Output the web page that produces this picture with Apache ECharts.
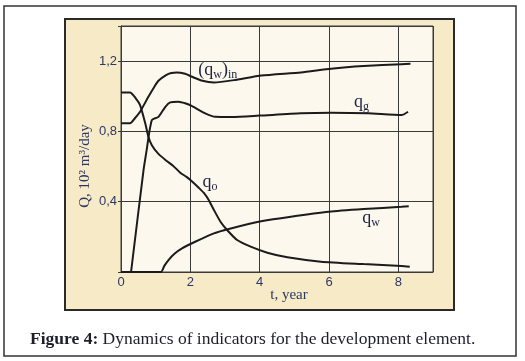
<!DOCTYPE html>
<html>
<head>
<meta charset="utf-8">
<script src="https://cdn.jsdelivr.net/npm/echarts@6/dist/echarts.min.js"></script>
<style>
  html, body { margin: 0; padding: 0; background: #fff; }
  #chart { width: 525px; height: 361px; }
</style>
</head>
<body>
<div id="chart"></div>
<script>
var dom = document.getElementById("chart");
var chart = echarts.init(dom);

// values: [t (year), Q (10^2 m3/day)]
var qoData = [[0,1.022],[0.26,1.022],[0.42,0.99],[0.55,0.95],[0.70,0.846],[0.79,0.77],[0.89,0.722],[1.08,0.672],
  [1.3,0.635],[1.5,0.605],[1.71,0.565],[1.90,0.54],[2.05,0.515],[2.25,0.478],[2.39,0.45],[2.53,0.41],[2.68,0.353],
  [2.87,0.286],[3.06,0.239],[3.35,0.182],[3.74,0.144],[4.22,0.110],[4.80,0.084],[5.77,0.059],[7,0.045],[8.09,0.034],[8.33,0.03]];
var qwData = [[0,0],[1.15,0],[1.25,0.035],[1.37,0.068],[1.55,0.105],[1.76,0.135],[2.14,0.172],[2.68,0.22],[3.11,0.245],
  [4.08,0.29],[4.90,0.315],[6,0.343],[7,0.358],[8.09,0.371],[8.30,0.374]];
var qwInData = [[0,0.846],[0.26,0.846],[0.4,0.875],[0.55,0.912],[0.79,0.997],[0.95,1.05],[1.08,1.088],[1.3,1.12],
  [1.45,1.132],[1.61,1.136],[1.85,1.128],[2.05,1.111],[2.35,1.088],[2.68,1.079],[3.26,1.092],[4.05,1.118],[5.19,1.136],
  [6.06,1.157],[7,1.172],[8.09,1.183],[8.35,1.185]];
var qgData = [[0.29,0],[0.65,0.58],[0.74,0.694],[0.82,0.80],[0.89,0.865],[0.94,0.872],[1.08,0.883],[1.28,0.94],
  [1.42,0.965],[1.66,0.969],[1.85,0.96],[2.05,0.944],[2.43,0.903],[2.72,0.883],[3.2,0.882],[4,0.89],[5.19,0.903],
  [6.06,0.906],[7.12,0.903],[8.09,0.893],[8.28,0.912]];

var xTicks = [0, 2, 4, 6, 8];
var yTicks = [0.4, 0.8, 1.2];

// curve names and where they sit (data coords, left/middle of the text)
var curveLabels = [
  {text: '{p|(q}{s|w}{p|)}{s|in}', at: [2.23, 1.149]},
  {text: '{p|q}{s|g}', at: [6.72, 0.967]},
  {text: '{p|q}{s|o}', at: [2.35, 0.512]},
  {text: '{p|q}{s|w}', at: [6.96, 0.307]}
];

var axisName = 'Q, 10² m³/day';
var xName = 't, year';
var caption = ['Figure 4:', ' Dynamics of indicators for the development element.'];

var serif = '"Liberation Serif", "DejaVu Serif", serif';
var labelColor = '#2b3766';

function curve(name, data) {
  return {
    name: name,
    type: 'line',
    data: data,
    smooth: 0.2,
    showSymbol: false,
    silent: true,
    lineStyle: { color: '#1b1b1b', width: 2 }
  };
}

var option = {
  animation: false,
  backgroundColor: '#ffffff',
  grid: {
    left: 121, top: 26, width: 312, height: 246,
    show: true,
    backgroundColor: '#fcf8ee',
    borderColor: '#3a3a3a',
    borderWidth: 1,
    outerBoundsMode: 'none'
  },
  xAxis: {
    type: 'value',
    min: 0, max: 9, interval: 2,
    axisLine: { show: true, lineStyle: { color: '#3a3a3a', width: 1 } },
    axisTick: { show: false },
    splitLine: { show: true, lineStyle: { color: '#3a3a3a', width: 1 } },
    axisLabel: {
      margin: 4,
      color: labelColor,
      fontFamily: '"Liberation Sans", Arial, sans-serif',
      fontSize: 13,
      formatter: function (v) { return xTicks.indexOf(v) >= 0 ? String(v) : ''; }
    }
  },
  yAxis: {
    type: 'value',
    min: 0, max: 1.4, interval: 0.4,
    axisLine: { show: true, lineStyle: { color: '#3a3a3a', width: 1 } },
    axisTick: { show: true, length: 3, inside: false, lineStyle: { color: '#3a3a3a' } },
    splitLine: { show: true, lineStyle: { color: '#3a3a3a', width: 1 } },
    axisLabel: {
      margin: 4,
      color: labelColor,
      fontFamily: '"Liberation Sans", Arial, sans-serif',
      fontSize: 13,
      formatter: function (v) {
        var r = Math.round(v * 10) / 10;
        if (yTicks.indexOf(r) < 0) return '';
        return r.toFixed(1).replace('.', ',');
      }
    }
  },
  series: [
    curve('qo', qoData),
    curve('qw', qwData),
    curve('(qw)in', qwInData),
    curve('qg', qgData)
  ]
};

chart.setOption(option, true);

var graphics = [
  { type: 'rect', z: -20, shape: { x: 4, y: 6, width: 512, height: 350 },
    style: { fill: '#ffffff', stroke: '#333333', lineWidth: 1.5 } },
  { type: 'rect', z: -10, shape: { x: 65, y: 19, width: 389, height: 291 },
    style: { fill: '#f6ebc6', stroke: '#2a2a2a', lineWidth: 2 } },
  { type: 'text', x: 85, y: 166, rotation: Math.PI / 2,
    style: { text: axisName, font: '15px ' + serif, fill: labelColor, align: 'center', verticalAlign: 'middle' } },
  { type: 'text', x: 289, y: 295,
    style: { text: xName, font: '15px ' + serif, fill: labelColor, align: 'center', verticalAlign: 'middle' } },
  { type: 'text', x: 30, y: 339,
    style: {
      text: '{b|' + caption[0] + '}{n|' + caption[1] + '}',
      verticalAlign: 'middle', align: 'left',
      rich: {
        b: { fontFamily: serif, fontSize: 17.5, fontWeight: 'bold', fill: '#1d1d2b' },
        n: { fontFamily: serif, fontSize: 17.5, fill: '#1d1d2b' }
      }
    } }
];

curveLabels.forEach(function (item) {
  var p = chart.convertToPixel({ gridIndex: 0 }, item.at);
  graphics.push({
    type: 'text', x: p[0], y: p[1], z: 10,
    style: {
      text: item.text, align: 'left', verticalAlign: 'middle',
      rich: {
        p: { fontFamily: serif, fontSize: 18, fill: '#1e2440', height: 18 },
        s: { fontFamily: serif, fontSize: 12, fill: '#1e2440', padding: [9, 0, 0, 0] }
      }
    }
  });
});

chart.setOption({ graphic: graphics });
</script>
</body>
</html>
